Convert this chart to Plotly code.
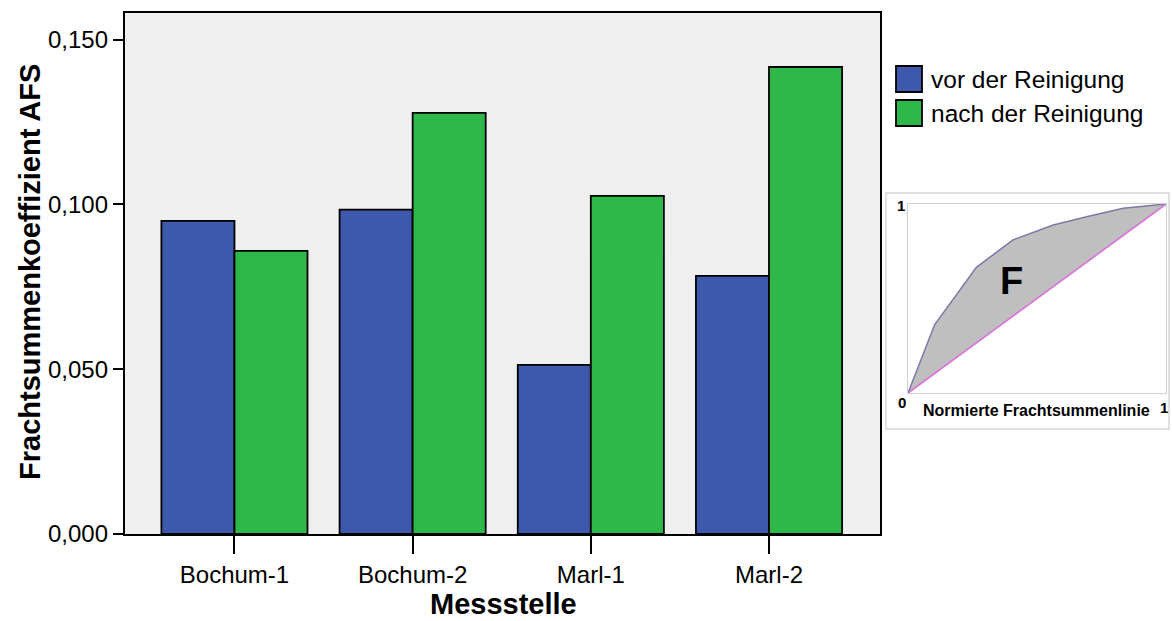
import plotly.graph_objects as go

# ---- data ----
categories = ["Bochum-1", "Bochum-2", "Marl-1", "Marl-2"]
vor_der_reinigung = [0.0950, 0.0984, 0.0513, 0.0783]
nach_der_reinigung = [0.0859, 0.1278, 0.1026, 0.1417]
y_tickvals = [0.0, 0.05, 0.10, 0.15]
series_names = ["vor der Reinigung", "nach der Reinigung"]

# inset (normierte Frachtsummenlinie)
inset_x = [0.0, 0.103, 0.265, 0.407, 0.563, 0.692, 0.834, 1.0]
inset_y = [0.0, 0.361, 0.665, 0.810, 0.889, 0.933, 0.977, 1.0]
diag_x = [0.0, 1.0]
diag_y = [0.0, 1.0]

W, H = 1172, 621
BLUE = "#3e58ab"
GREEN = "#2fb84a"
FONT = "Liberation Sans, Arial, sans-serif"


def px(x):
    return x / W


def py(y):
    return 1 - y / H


fig = go.Figure()
fig.add_trace(go.Bar(x=categories, y=vor_der_reinigung, name=series_names[0],
                     marker=dict(color=BLUE, line=dict(color="black", width=1.8)),
                     showlegend=False, xaxis="x", yaxis="y"))
fig.add_trace(go.Bar(x=categories, y=nach_der_reinigung, name=series_names[1],
                     marker=dict(color=GREEN, line=dict(color="black", width=1.8)),
                     showlegend=False, xaxis="x", yaxis="y"))

# inset traces
fig.add_trace(go.Scatter(x=diag_x, y=diag_y, mode="lines",
                         line=dict(color="#d77ad7", width=1.5),
                         showlegend=False, hoverinfo="skip", xaxis="x2", yaxis="y2"))
fig.add_trace(go.Scatter(x=inset_x, y=inset_y, mode="lines", fill="tonexty",
                         fillcolor="#bfbfbf", line=dict(color="#7a7aa6", width=1.5),
                         showlegend=False, hoverinfo="skip", xaxis="x2", yaxis="y2"))
fig.add_trace(go.Scatter(x=diag_x, y=diag_y, mode="lines",
                         line=dict(color="#d77ad7", width=1.5),
                         showlegend=False, hoverinfo="skip", xaxis="x2", yaxis="y2"))

fig.update_layout(
    width=W, height=H,
    margin=dict(l=0, r=0, t=0, b=0, autoexpand=False),
    paper_bgcolor="white",
    plot_bgcolor="#efefef",
    separators=",.",
    barmode="group", bargap=0.18, bargroupgap=0,
    font=dict(family=FONT, color="black", size=24),
    xaxis=dict(domain=[px(124.7), px(880)], range=[-0.616, 3.623],
               showline=True, mirror=True, linecolor="black", linewidth=1.8,
               ticks="outside", ticklen=18, tickwidth=1.5, tickcolor="black",
               tickfont=dict(size=24, family=FONT), showgrid=False,
               automargin=False, anchor="y"),
    yaxis=dict(domain=[py(534), py(13.3)], range=[0, 0.158],
               tickvals=y_tickvals, tickformat=".3f",
               showline=True, mirror=True, linecolor="black", linewidth=1.8,
               ticks="outside", ticklen=10, tickwidth=1.5, tickcolor="black",
               tickfont=dict(size=24, family=FONT), showgrid=False, zeroline=False,
               automargin=False, anchor="x"),
    xaxis2=dict(domain=[px(908), px(1166)], range=[0, 1], anchor="y2",
                showline=True, mirror=True, linecolor="#d0d0d0", linewidth=1,
                showticklabels=False, ticks="", showgrid=False, zeroline=False,
                automargin=False),
    yaxis2=dict(domain=[py(393), py(204)], range=[0, 1], anchor="x2",
                showline=True, mirror=True, linecolor="#d0d0d0", linewidth=1,
                showticklabels=False, ticks="", showgrid=False, zeroline=False,
                automargin=False),
)

# inset background / frame and legend swatches
shapes = [
    dict(type="rect", xref="paper", yref="paper", x0=px(886), x1=px(1169),
         y0=py(429), y1=py(193), line=dict(color="#d8d8d8", width=1.5),
         fillcolor="white", layer="below"),
    dict(type="rect", xref="paper", yref="paper", x0=px(896), x1=px(922),
         y0=py(92), y1=py(66), line=dict(color="black", width=1.8), fillcolor=BLUE),
    dict(type="rect", xref="paper", yref="paper", x0=px(896), x1=px(922),
         y0=py(126), y1=py(100), line=dict(color="black", width=1.8), fillcolor=GREEN),
]
fig.update_layout(shapes=shapes)

annotations = [
    dict(text="<b>Frachtsummenkoeffizient AFS</b>", x=px(30), y=py(272),
         xref="paper", yref="paper", showarrow=False, textangle=-90,
         font=dict(size=29, family=FONT), xanchor="center", yanchor="middle"),
    dict(text="<b>Messstelle</b>", x=px(503), y=py(604),
         xref="paper", yref="paper", showarrow=False,
         font=dict(size=29, family=FONT), xanchor="center", yanchor="middle"),
    dict(text=series_names[0], x=px(929), y=py(79), xref="paper", yref="paper",
         showarrow=False, font=dict(size=24.5, family=FONT),
         xanchor="left", yanchor="middle"),
    dict(text=series_names[1], x=px(929), y=py(113), xref="paper", yref="paper",
         showarrow=False, font=dict(size=24.5, family=FONT),
         xanchor="left", yanchor="middle"),
    # inset labels
    dict(text="<b>F</b>", x=px(1011), y=py(281), xref="paper", yref="paper",
         showarrow=False, font=dict(size=38, family=FONT),
         xanchor="center", yanchor="middle"),
    dict(text="<b>Normierte Frachtsummenlinie</b>", x=px(1036), y=py(410),
         xref="paper", yref="paper", showarrow=False,
         font=dict(size=16, family=FONT), xanchor="center", yanchor="middle"),
    dict(text="<b>1</b>", x=px(901), y=py(205), xref="paper", yref="paper",
         showarrow=False, font=dict(size=15, family=FONT),
         xanchor="center", yanchor="middle"),
    dict(text="<b>0</b>", x=px(902), y=py(402), xref="paper", yref="paper",
         showarrow=False, font=dict(size=15, family=FONT),
         xanchor="center", yanchor="middle"),
    dict(text="<b>1</b>", x=px(1164), y=py(407), xref="paper", yref="paper",
         showarrow=False, font=dict(size=15, family=FONT),
         xanchor="center", yanchor="middle"),
]
fig.update_layout(annotations=annotations)

fig.write_html("out.html",
               config={"displayModeBar": False},
               post_script="document.body.style.margin='0';document.body.style.padding='0';")
